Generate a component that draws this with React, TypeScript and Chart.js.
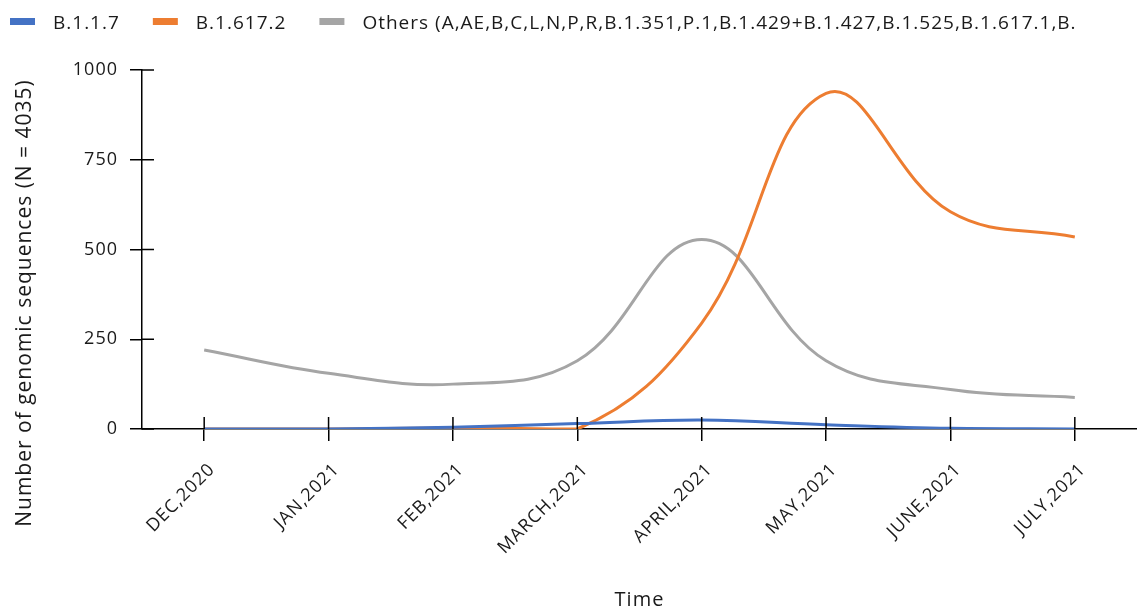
import React, { useEffect, useRef } from "react";
import { Chart, registerables } from "chart.js";

Chart.register(...registerables);

const months = ["DEC,2020", "JAN,2021", "FEB,2021", "MARCH,2021", "APRIL,2021", "MAY,2021", "JUNE,2021", "JULY,2021"];
const b117 = [0, 0, 5, 15, 25, 12, 2, 0];
const b16172 = [0, 0, 3, 0, 295, 935, 605, 535];
const others = [220, 155, 125, 190, 528, 190, 110, 88];
const yTicks = [0, 250, 500, 750, 1000];
const othersLabel = "Others (A,AE,B,C,L,N,P,R,B.1.351,P.1,B.1.429+B.1.427,B.1.525,B.1.617.1,B.";
const yTitle = "Number of genomic sequences (N = 4035)";
const colors = ["#4472C4", "#ED7D31", "#A5A5A5"];

const FONT = "'Open Sans', 'Noto Sans', sans-serif";
const TEXT = "#1a1a1a";
const LEG_PAD = 33;

const custom = {
  id: "custom",
  beforeLayout(chart: any) {
    chart.ctx.letterSpacing = "1px";
    const l = chart.legend;
    if (l && !l.__patched) {
      const orig = l.fit;
      l.fit = function () {
        orig.call(this);
        this.height = 70;
      };
      l.__patched = true;
    }
  },
  afterUpdate(chart: any) {
    const l = chart.legend;
    if (!l) return;
    const h = l.bottom - l.top;
    l.top = -19;
    l.bottom = l.top + h;
    const w = l.right - l.left;
    l.left = 10 - LEG_PAD;
    l.right = l.left + w + 40;
  },
  beforeDraw(chart: any) {
    chart.ctx.letterSpacing = "1px";
  },
  afterDraw(chart: any) {
    const { ctx } = chart;
    const l = chart.legend;
    if (l && l.legendHitBoxes) {
      const cy = l.top + LEG_PAD + 7;
      let x = l.left + LEG_PAD;
      l.legendHitBoxes.forEach((hb: any, i: number) => {
        ctx.save();
        ctx.fillStyle = colors[i];
        ctx.fillRect(x, Math.round(cy - 3.5), 25, 7);
        ctx.restore();
        x += hb.width + LEG_PAD;
      });
    }
    ctx.save();
    ctx.letterSpacing = "1px";
    ctx.translate(25, 303);
    ctx.rotate(-Math.PI / 2);
    ctx.font = `21px ${FONT}`;
    ctx.fillStyle = TEXT;
    ctx.textAlign = "center";
    ctx.textBaseline = "middle";
    ctx.fillText(yTitle, 0, 0);
    ctx.restore();
  },
};

const crossTicks = {
  id: "crossTicks",
  afterDatasetsDraw(chart: any) {
    const { ctx, scales } = chart;
    const x = scales.x;
    const y = scales.y;
    const len = 12;
    ctx.save();
    ctx.strokeStyle = "#000";
    ctx.lineWidth = 1.5;
    ctx.beginPath();
    for (let i = 0; i < months.length; i++) {
      const px = x.getPixelForValue(i);
      ctx.moveTo(px, y.bottom);
      ctx.lineTo(px, y.bottom - len);
    }
    for (const v of yTicks) {
      const py = y.getPixelForValue(v);
      ctx.moveTo(x.left, py);
      ctx.lineTo(x.left + len, py);
    }
    ctx.stroke();
    ctx.restore();
  },
};

export default function App() {
  const ref = useRef<HTMLCanvasElement>(null);
  useEffect(() => {
    document.body.style.margin = "0";
    const canvas = ref.current!;
    const chart = new Chart(canvas, {
      type: "line",
      data: {
        labels: months,
        datasets: [
          { label: "B.1.1.7", data: b117, borderColor: colors[0], backgroundColor: colors[0], borderWidth: 3, pointRadius: 0, tension: 0.4 },
          { label: "B.1.617.2", data: b16172, borderColor: colors[1], backgroundColor: colors[1], borderWidth: 3, pointRadius: 0, tension: 0.4 },
          { label: othersLabel, data: others, borderColor: colors[2], backgroundColor: colors[2], borderWidth: 3, pointRadius: 0, tension: 0.4 },
        ],
      },
      options: {
        animation: false,
        responsive: false,
        maintainAspectRatio: false,
        layout: { padding: 0 },
        plugins: {
          legend: {
            position: "top",
            align: "start",
            labels: {
              boxWidth: 33.5,
              boxHeight: 7,
              font: { family: FONT, size: 19 },
              color: TEXT,
              padding: LEG_PAD,
              generateLabels: (chart: any) => {
                const items = Chart.defaults.plugins.legend.labels.generateLabels(chart);
                return items.map((it: any) => ({ ...it, fillStyle: "rgba(0,0,0,0)", strokeStyle: "rgba(0,0,0,0)", lineWidth: 0 }));
              },
            },
          },
          tooltip: { enabled: false },
        },
        scales: {
          x: {
            offset: true,
            afterFit: (scale: any) => {
              scale.height = 183;
            },
            grid: { display: true, drawOnChartArea: false, drawTicks: true, tickLength: 12, color: "#000", lineWidth: 1.5 },
            border: { display: true, color: "#000", width: 1.5 },
            ticks: { color: TEXT, font: { family: FONT, size: 18 }, maxRotation: 45, minRotation: 45, padding: 18, labelOffset: 8 },
            title: { display: true, text: "Time", color: TEXT, font: { family: FONT, size: 20 }, padding: { top: 0, bottom: 0 } },
          },
          y: {
            min: 0,
            max: 1000,
            afterFit: (scale: any) => {
              scale.width = 142;
            },
            afterBuildTicks: (axis: any) => {
              axis.ticks = yTicks.map((v) => ({ value: v }));
            },
            grid: { display: true, drawOnChartArea: false, drawTicks: true, tickLength: 12, color: "#000", lineWidth: 1.5 },
            border: { display: true, color: "#000", width: 1.5 },
            ticks: { color: TEXT, font: { family: FONT, size: 18 }, padding: 12, callback: (v: any) => String(v) },
            title: { display: false },
          },
        },
      },
      plugins: [custom, crossTicks],
    });
    return () => chart.destroy();
  }, []);
  return <canvas ref={ref} width={1137} height={612} style={{ display: "block" }} />;
}
